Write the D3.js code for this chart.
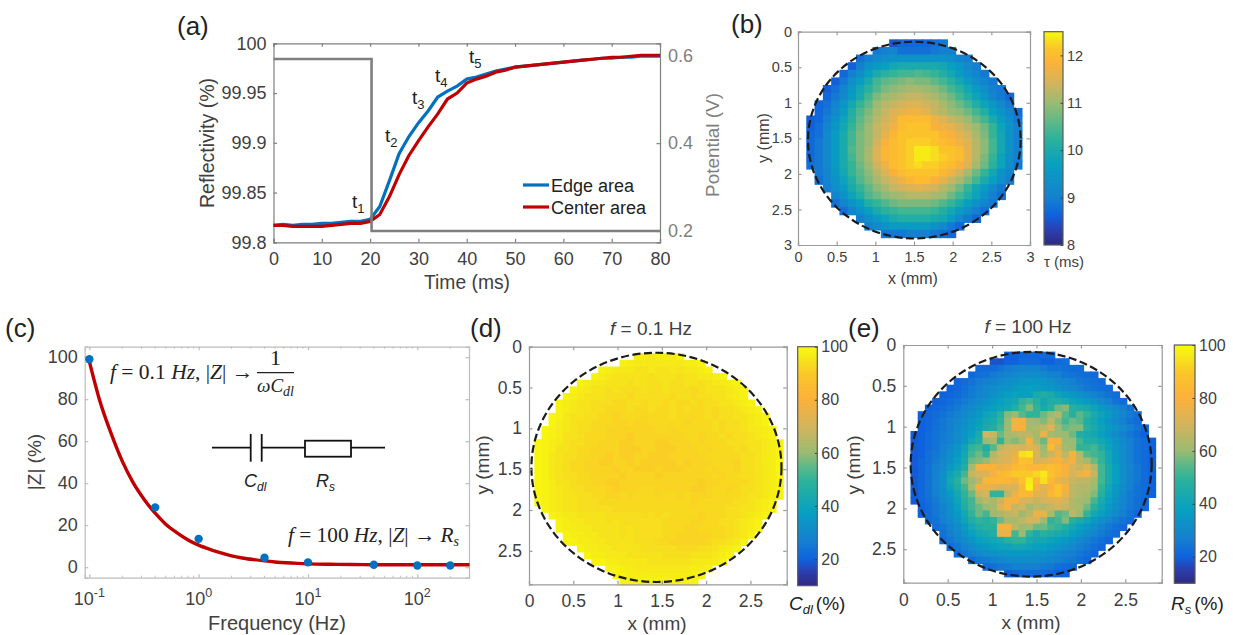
<!DOCTYPE html>
<html>
<head>
<meta charset="utf-8">
<script src="https://cdn.jsdelivr.net/npm/d3@7"></script>
<style>
  body { margin: 0; background: #fff; }
  text { font-family: "Liberation Sans", Arial, sans-serif; }
</style>
</head>
<body>
<svg width="1233" height="635"></svg>
<script>
// (a) reflectivity transients
const timeMs = [0,2,4,6,8,10,12,14,16,18,20,22,24,26,28,30,32,34,36,38,40,42,44,46,48,50,52,54,56,58,60,62,64,66,68,70,72,74,76,78,80];
const edgeArea = [99.817,99.818,99.817,99.818,99.818,99.819,99.819,99.82,99.821,99.821,99.823,99.836,99.862,99.889,99.906,99.92,99.932,99.946,99.952,99.957,99.964,99.966,99.969,99.972,99.974,99.976,99.977,99.978,99.979,99.98,99.981,99.982,99.983,99.984,99.985,99.985,99.986,99.986,99.987,99.987,99.987];
const centerArea = [99.817,99.817,99.816,99.816,99.816,99.816,99.817,99.818,99.819,99.819,99.821,99.828,99.846,99.868,99.887,99.902,99.916,99.929,99.944,99.95,99.96,99.964,99.967,99.971,99.973,99.976,99.977,99.978,99.979,99.98,99.981,99.982,99.983,99.984,99.985,99.986,99.986,99.987,99.988,99.988,99.988];
const potentialTime = [0,20.3,20.3,80];
const potentialVolts = [0.5916,0.5916,0.2,0.2];
const stepLabels = ["1","2","3","4","5"];

// (c) impedance spectrum
const freqPoints = [0.1,0.4,1,4,10,40,100,200];
const zPoints = [99,28.5,13.5,4.5,2.3,1.2,0.8,0.8];
const freqFit = [0.1,0.125,0.16,0.2,0.25,0.32,0.4,0.5,0.63,0.8,1,1.3,1.6,2,2.5,3.2,4,5,6.3,8,10,16,25,40,63,100,160,300];
const zFit = [98,79,63,50.5,40.5,32,25.7,20.5,16.5,13,10.5,8.3,6.8,5.4,4.4,3.6,3,2.5,2.1,1.8,1.6,1.4,1.3,1.2,1.2,1.2,1.2,1.2];

// colour bar stops: (b) runs a bit differently from (d) and (e)
const cmapColors = ["#2e2a80","#2c3fb0","#0f62de","#1580d0","#07a0c0","#2db39a","#60b888","#9bbb72","#d4b45c","#fbb13a","#fbc52a","#f6e61a","#f9fb0e"];
const cmapPosB = [0,0.07,0.14,0.22,0.38,0.5,0.58,0.667,0.76,0.85,0.92,0.97,1];
const cmapPosDE = [0,0.06,0.11,0.19,0.31,0.44,0.5,0.556,0.667,0.78,0.88,0.95,1];

// (b) tau map: rows start at grid row 1, tauCols gives each row's first column
const tauCols = [11,9,7,6,5,4,3,3,2,2,1,1,1,1,1,1,1,2,2,3,4,4,5,7,8,10];
const tauRows = [
[8.5,8.7,8.7,8.7,8.7,8.8,8.9],
[8.9,9,9.1,8.8,8.8,8.8,8.8,8.9,9,9],
[8.8,9,9.2,9.3,9.4,9.4,9.4,9.4,9.4,9.4,9.4,9.3,9.1,9],
[8.6,9,9.4,9.6,9.7,9.9,10,10,10,10,10,9.9,9.7,9.5,9.2,9],
[8.7,9,9.3,9.7,10,10.2,10.3,10.4,10.4,10.5,10.4,10.3,10.1,9.9,9.6,9.3,9.1,8.9],
[8.6,8.9,9.3,9.6,10,10.4,10.6,10.7,10.8,10.9,10.8,10.8,10.6,10.4,10.2,9.9,9.6,9.3,9.1,8.9],
[8.6,8.8,9.1,9.5,9.9,10.2,10.5,10.8,10.9,11,11.1,11.1,11,10.9,10.7,10.4,10.2,9.9,9.6,9.3,9,8.9],
[8.7,8.9,9.2,9.6,10,10.4,10.8,11,11.1,11.2,11.3,11.3,11.2,11.1,10.9,10.7,10.4,10.1,9.8,9.5,9.1,8.9,8.7],
[8.7,8.8,9.1,9.5,9.9,10.3,10.6,11,11.2,11.3,11.4,11.5,11.5,11.4,11.3,11.1,10.9,10.7,10.4,10.1,9.8,9.5,9.2,8.9],
[8.7,8.9,9.2,9.6,10.1,10.5,10.8,11.1,11.3,11.5,11.6,11.7,11.7,11.6,11.3,11.2,11,10.9,10.7,10.4,10.1,9.7,9.4,9.1,8.8],
[8.6,8.7,9,9.4,9.8,10.2,10.6,10.9,11.2,11.4,11.6,12,12,12,12,11.7,11.5,11.3,11.2,11,10.7,10.4,10,9.6,9.3,8.9],
[8.6,8.8,9.1,9.5,9.9,10.3,10.7,11,11.3,11.5,11.7,12,12.1,12.1,12.1,11.8,11.7,11.6,11.4,11.2,11,10.7,10.3,9.8,9.4,9],
[8.7,8.8,9.2,9.6,10,10.4,10.8,11,11.3,11.6,11.9,12.1,12.1,12.1,12.1,12.1,11.9,11.8,11.6,11.4,11.1,10.8,10.3,9.9,9.4,9],
[8.7,8.9,9.2,9.6,10,10.4,10.8,11,11.4,11.8,12,12.1,12.2,12.2,12.2,12.1,12,11.9,11.7,11.5,11.2,10.9,10.4,9.9,9.4,9],
[8.7,8.9,9.2,9.6,10,10.5,10.8,11.1,11.5,11.9,12,12.1,12.2,12.4,12.4,12.3,12.1,12.1,12,11.6,11.2,10.9,10.4,9.9,9.4,9],
[8.7,8.9,9.2,9.6,10,10.4,10.8,11.1,11.5,11.9,12,12.1,12.2,12.4,12.4,12.3,12.2,12.1,12,11.6,11.2,10.8,10.3,9.8,9.3,9],
[8.8,8.9,9.2,9.6,10,10.3,10.7,11,11.4,11.7,12,12.1,12.2,12.3,12.2,12.2,12.1,12,11.8,11.5,11.1,10.7,10.2,9.8,9.3,8.9],
[8.9,9.1,9.5,9.9,10.3,10.6,10.9,11.2,11.5,11.8,12,12.1,12.1,12.1,12.1,11.9,11.7,11.4,11.1,10.7,10.3,9.9,9.4,9.1],
[8.8,9.1,9.4,9.8,10.1,10.5,10.8,11.1,11.3,11.5,11.7,11.9,12,12,11.8,11.6,11.3,11.1,10.8,10.4,10,9.7,9.3,9],
[9,9.3,9.6,10,10.3,10.6,10.9,11.1,11.3,11.4,11.5,11.6,11.5,11.4,11.2,11,10.7,10.3,9.9,9.6,9.2,8.9],
[9.1,9.4,9.8,10.1,10.5,10.7,10.9,11,11.1,11.2,11.2,11.2,11.1,11,10.7,10.4,10.1,9.8,9.4,9,8.8],
[8.8,9.1,9.4,9.7,10.1,10.3,10.5,10.7,10.8,10.8,10.8,10.8,10.7,10.5,10.3,10,9.7,9.4,9.1,8.9],
[8.8,9.1,9.4,9.7,10,10.2,10.3,10.4,10.4,10.4,10.4,10.3,10.1,9.9,9.6,9.3,9,8.8],
[9,9.3,9.6,9.8,10,10.1,10.1,10.1,10.1,10,9.9,9.6,9.2,8.9,8.7],
[9,9.2,9.4,9.6,9.6,9.6,9.6,9.6,9.4,9.2,8.9,8.7],
[8.9,8.9,8.9,9,9,9,8.9,8.8,8.7]
];

// (d) C_dl map
const cdlCols = [15,13,10,9,7,6,5,4,4,3,3,2,2,1,1,1,1,1,1,1,1,1,1,2,3,4,4,5,5,7,8,9,11,12,13];
const cdlRows = [
[97,97,96,97,97,97,98],
[98,97,96,96,96,96,96,96,96,97,97,98],
[98,97,96,96,96,95,95,96,95,95,96,95,96,96,97,98],
[98,97,96,95,95,95,95,95,94,95,95,95,94,95,95,96,96,97,98],
[98,97,96,96,95,95,95,94,95,95,94,94,95,94,94,95,95,94,95,96,96,97,98],
[98,97,96,95,95,94,95,94,94,94,95,94,94,95,94,94,94,93,94,95,95,95,96,97,98],
[98,97,96,95,95,95,94,94,94,93,94,94,94,94,94,93,94,94,93,94,94,95,95,96,97,98],
[98,97,96,95,95,94,94,94,93,93,94,94,93,94,94,93,94,93,93,94,93,94,94,95,95,96,97,98],
[98,97,96,95,95,94,94,93,93,93,94,93,93,94,93,93,94,93,94,93,93,94,93,94,94,95,96,97,98],
[99,98,96,95,95,94,94,93,93,92,93,93,93,92,93,93,93,94,93,93,93,93,94,93,94,94,95,95,96,97,98],
[99,97,96,95,94,94,93,93,93,92,92,93,92,92,93,93,93,93,93,92,93,93,93,94,93,94,94,95,96,97,98],
[99,98,97,96,95,94,94,93,93,92,92,92,92,92,92,92,93,93,92,93,93,93,93,93,94,93,94,94,95,96,96,97,98],
[99,98,97,95,95,94,93,93,93,92,92,92,91,92,92,92,92,92,92,92,93,93,92,93,93,94,93,94,94,95,96,97,98],
[99,98,97,96,95,94,94,93,93,92,92,92,91,91,92,92,92,91,91,92,92,92,93,92,93,93,93,94,94,94,95,95,96,97,98],
[99,98,97,95,95,94,93,93,92,92,92,92,91,91,91,92,92,91,91,91,92,92,92,93,92,93,93,93,94,93,95,95,96,97,98],
[99,98,96,95,94,94,93,93,92,92,91,92,91,91,92,92,91,91,91,92,92,92,92,92,93,93,93,93,93,94,94,95,96,97,98],
[99,98,96,95,94,93,93,92,92,91,91,92,92,91,92,91,91,91,91,91,92,91,92,92,92,93,93,93,92,94,94,95,96,97,99],
[99,98,96,95,94,93,93,92,92,92,92,91,92,92,91,91,91,92,91,91,91,92,92,92,93,92,93,93,92,94,94,95,96,97,99],
[99,98,96,95,94,94,93,93,92,92,92,92,91,92,92,92,92,91,92,92,92,92,92,92,92,93,92,93,93,94,94,95,96,97,98],
[99,98,97,95,95,94,93,93,92,92,91,91,92,92,92,92,92,92,92,92,92,92,92,91,92,92,93,93,93,93,94,95,96,97,98],
[99,98,97,96,95,94,94,93,93,93,92,91,92,92,92,93,93,92,92,92,92,92,91,91,92,93,93,92,93,94,94,95,96,97,98],
[99,98,97,96,95,95,94,94,93,93,92,92,93,92,93,93,93,92,93,93,92,93,92,92,92,93,93,93,93,94,95,95,96,97,98],
[99,98,97,96,95,95,94,94,94,93,93,93,93,93,93,93,93,93,93,93,93,93,92,93,93,93,93,93,94,94,95,96,97,98],
[98,97,96,95,95,94,94,94,94,94,93,93,93,93,93,93,93,93,93,93,93,93,93,93,93,93,94,94,95,95,96,97,98],
[98,97,96,96,95,95,95,95,94,94,94,94,94,93,94,93,94,93,93,93,93,92,93,93,93,94,94,95,96,97,98],
[98,97,96,96,95,95,95,94,95,94,94,94,94,94,94,93,93,93,93,92,92,93,93,94,94,95,96,97,98],
[98,97,97,96,96,95,95,95,95,94,95,94,94,94,94,93,93,93,92,92,93,93,93,93,94,95,96,97,98],
[98,97,97,96,96,95,95,95,94,95,94,94,94,94,93,93,92,92,92,92,92,93,93,94,95,96,98],
[98,98,97,97,96,96,95,95,95,95,94,94,94,93,93,92,92,92,92,92,93,94,94,95,96,98],
[98,97,97,96,96,95,95,95,95,94,94,94,94,94,93,93,93,94,94,95,96,97,98],
[98,97,97,96,96,96,95,95,95,95,95,94,94,94,94,95,95,95,96,97,98],
[98,98,97,97,96,96,96,96,95,95,95,95,95,95,96,96,96,97,98],
[98,98,97,97,96,96,96,96,96,96,96,96,97,97,98],
[98,98,97,97,97,97,97,97,97,97,97,98,98],
[98,98,98,98,98,98,98,98,98,98,98]
];

// (e) R_s map
const rsCols = [14,12,10,9,7,6,5,4,3,2,2,2,1,1,1,1,1,1,1,1,1,1,1,2,2,3,4,5,5,6,7,9,11,14];
const rsRows = [
[20,20,21,21,21,22,22],
[18,18,20,20,22,22,22,20,20,22,23],
[22,22,22,24,26,27,28,28,28,26,24,24,23,22,22],
[21,23,24,26,27,28,30,31,31,32,30,28,27,25,24,23,22,22],
[21,22,24,26,27,28,30,32,33,35,35,35,34,33,30,29,27,25,24,23,22],
[20,21,23,25,27,29,31,33,34,36,37,38,37,36,35,33,31,29,27,25,24,23,22],
[20,21,22,24,26,28,30,33,35,37,39,38,38,44,46,44,40,37,35,33,30,28,26,24,22],
[20,21,22,24,26,28,31,33,36,38,40,42,50,52,48,42,46,46,44,40,38,36,33,30,27,24,22],
[20,21,22,24,26,28,30,33,36,38,40,42,46,52,58,50,44,48,56,58,48,46,44,40,36,33,30,27,24],
[20,21,22,24,26,28,30,33,36,40,42,48,58,60,54,50,50,56,60,64,54,48,54,50,44,40,36,32,29,26,23],
[20,21,23,25,27,29,32,35,38,42,44,50,60,78,80,62,60,58,66,58,52,56,54,46,42,38,34,30,27,24,22],
[20,21,23,25,27,30,33,36,40,44,46,52,60,78,80,62,64,66,72,60,56,58,58,48,44,40,36,33,30,27,24,21],
[19,20,22,24,26,28,31,34,38,44,70,68,56,62,64,66,66,62,76,62,60,60,56,46,44,42,38,34,31,28,25,22,20],
[19,20,22,24,26,28,31,35,42,46,60,62,50,60,58,62,78,62,56,78,80,60,60,52,46,46,42,38,34,30,27,24,22,20],
[19,20,22,24,27,30,34,40,50,52,46,54,66,70,72,70,74,70,60,84,72,62,60,50,50,52,46,40,35,31,27,24,22,20],
[19,20,23,25,28,32,36,42,52,56,50,64,70,72,76,94,96,72,62,68,76,66,80,64,54,52,50,42,36,31,27,24,22,20],
[19,21,23,26,29,33,38,44,56,58,60,68,70,72,78,88,86,70,72,76,80,74,78,66,62,56,50,42,36,31,27,24,22,20],
[19,21,24,27,30,36,40,46,62,78,80,80,76,78,84,86,82,82,84,86,84,80,72,68,74,64,52,44,38,32,28,25,22,20],
[19,21,24,28,32,40,44,52,68,70,72,78,84,86,90,90,90,92,96,88,84,78,70,76,78,68,52,44,38,32,28,25,22,20],
[19,21,24,28,33,42,48,56,60,66,82,82,84,82,78,88,96,84,94,84,76,72,68,66,66,62,52,44,38,32,28,25,22,20],
[19,21,24,28,32,40,46,52,62,76,76,74,70,72,70,84,98,78,74,80,88,80,66,64,64,60,50,42,36,31,27,24,22,20],
[19,21,24,27,31,36,42,50,56,68,70,50,50,66,76,84,84,74,72,84,88,76,66,64,62,58,48,40,35,30,26,24,22,20],
[19,21,23,26,30,34,40,48,52,60,66,62,68,78,80,72,70,68,70,72,74,70,64,62,60,52,44,38,33,29,26,23,21],
[20,22,25,28,32,38,46,52,56,60,62,72,78,68,70,62,66,64,68,70,68,64,62,56,48,42,36,32,28,25,23,21],
[20,22,25,28,32,36,42,50,56,52,60,62,66,68,60,66,76,74,62,54,56,66,60,50,42,38,34,30,27,24,21],
[22,24,27,30,34,40,46,50,48,50,56,62,62,66,70,70,60,50,52,58,48,44,40,36,32,29,26,24,22],
[23,25,28,31,36,42,46,48,48,78,78,66,60,62,56,56,52,50,46,42,38,35,31,28,25,23,21],
[24,27,30,34,38,42,44,46,76,76,52,60,50,44,48,46,44,42,38,35,32,29,26,24,22],
[22,25,28,31,34,38,40,42,44,48,50,50,44,42,42,40,38,36,33,30,27,25,23,21],
[22,25,28,31,34,36,38,40,40,42,42,40,38,38,36,34,32,30,27,25,23,21],
[22,25,27,30,32,33,34,35,35,35,35,34,34,32,30,28,27,25,23,21],
[22,25,26,28,29,30,31,31,31,31,30,29,28,26,25,23,21],
[22,23,25,26,27,27,27,27,26,25,23,22,21],
[20,21,22,22,22,22,21,20,20]
];

const svg = d3.select("svg");
const textCol = "#404040";

function panelLabel(s, x, y) {
  svg.append("text").attr("x", x).attr("y", y).attr("font-size", 26).attr("fill", "#222").text(s);
}

// box with inward ticks on all sides
function boxAxes(g, x, y, o) {
  const bottomY = Math.max(...y.range());
  const color = o.color || "#8c8c8c";
  const bottom = g.append("g").attr("transform", `translate(0,${bottomY})`)
    .call(d3.axisBottom(x).tickValues(o.xTicks).tickSize(-3.5).tickPadding(o.padX).tickFormat(o.xFormat || (d => d)));
  const left = g.append("g").attr("transform", `translate(${x.range()[0]},0)`)
    .call(d3.axisLeft(y).tickValues(o.yTicks).tickSize(-3.5).tickPadding(o.padY).tickFormat(d => d));
  const top = g.append("g").attr("transform", `translate(0,${Math.min(...y.range())})`)
    .call(d3.axisTop(x).tickValues(o.xTicks).tickSize(-3.5).tickFormat(""));
  [bottom, left, top].forEach(a => {
    a.selectAll("path,line").attr("stroke", color).attr("stroke-width", 1.2);
    a.selectAll("text").attr("fill", textCol).attr("font-size", o.font).attr("font-family", "Liberation Sans");
  });
}

function rightEdge(g, x, y, ticks, color) {
  const a = g.append("g").attr("transform", `translate(${x.range()[1]},0)`)
    .call(d3.axisRight(y).tickValues(ticks).tickSize(-3.5).tickFormat(""));
  a.selectAll("path,line").attr("stroke", color).attr("stroke-width", 1.2);
}

// ---------- (a) ----------
panelLabel("(a)", 177, 35);
{
  const x = d3.scaleLinear().domain([0, 80]).range([273.5, 660]);
  const y = d3.scaleLinear().domain([99.8, 100]).range([242.3, 43.3]);
  const yR = d3.scaleLinear().domain([0.1743, 0.6273]).range([242.3, 43.3]);
  const g = svg.append("g");
  const lineOf = vals => d3.line().x((d, i) => x(timeMs[i])).y(d => y(d))(vals);

  boxAxes(g, x, y, {
    xTicks: d3.range(0, 81, 10), yTicks: [99.8, 99.85, 99.9, 99.95, 100],
    font: 18, color: "#7f7f7f", padX: 9.5, padY: 7
  });
  const r = g.append("g").attr("transform", "translate(660,0)")
    .call(d3.axisRight(yR).tickValues([0.2, 0.4, 0.6]).tickSize(-3.5).tickPadding(8).tickFormat(d => d));
  r.selectAll("path,line").attr("stroke", "#7f7f7f").attr("stroke-width", 1.2);
  r.selectAll("text").attr("fill", "#7f7f7f").attr("font-size", 18).attr("font-family", "Liberation Sans");

  g.append("path").attr("fill", "none").attr("stroke", "#0070c0").attr("stroke-width", 3.2).attr("d", lineOf(edgeArea));
  g.append("path").attr("fill", "none").attr("stroke", "#c00000").attr("stroke-width", 3.2).attr("d", lineOf(centerArea));
  g.append("path").attr("fill", "none").attr("stroke", "#7f7f7f").attr("stroke-width", 2.6)
    .attr("d", d3.line().x((d, i) => x(potentialTime[i])).y(d => yR(d))(potentialVolts));

  const lab = (s, xx, yy, size, col, rot) => g.append("text")
    .attr("transform", `translate(${xx},${yy})` + (rot ? ` rotate(${rot})` : ""))
    .attr("text-anchor", "middle").attr("font-size", size).attr("fill", col).text(s);
  lab("Time (ms)", 467, 289, 19.3, textCol);
  lab("Reflectivity (%)", 214, 143, 19.5, textCol, -90);
  lab("Potential (V)", 719, 145, 18.9, "#7f7f7f", -90);

  // step markers t1..t5
  const stepX = [352, 385, 412, 435, 469];
  const stepY = [208, 141.7, 104, 81.7, 63];
  stepLabels.forEach((s, i) => {
    const t = g.append("text").attr("x", stepX[i]).attr("y", stepY[i]).attr("font-size", 19).attr("fill", "#222").text("t");
    t.append("tspan").attr("dy", 5).attr("font-size", 13).text(s);
  });

  // legend
  [["Edge area", "#0070c0", 192], ["Center area", "#c00000", 214]].forEach(d => {
    g.append("line").attr("x1", 523).attr("x2", 549).attr("y1", d[2] - 7).attr("y2", d[2] - 7)
      .attr("stroke", d[1]).attr("stroke-width", 3.2);
    g.append("text").attr("x", 551).attr("y", d[2]).attr("font-size", 18).attr("fill", "#222").text(d[0]);
  });
}

// ---------- heat maps ----------
function drawMap(o) {
  const g = svg.append("g");
  const x = d3.scaleLinear().domain([0, o.max]).range(o.xr);
  const y = d3.scaleLinear().domain([0, o.max]).range(o.yr);
  const col = d3.scaleLinear().domain(o.domain).range([0, 1]);
  const tMap = d3.scaleLinear().domain(o.pos).range(cmapColors);

  o.rows.forEach((row, r) => {
    row.forEach((v, i) => {
      const c = o.cols[r] + i;
      const r0 = r + 1;
      g.append("rect")
        .attr("x", x(o.x0 + c * o.cx)).attr("y", y(r0 * o.cy))
        .attr("width", x(o.x0 + (c + 1) * o.cx) - x(o.x0 + c * o.cx) + 0.8)
        .attr("height", y((r0 + 1) * o.cy) - y(r0 * o.cy) + 0.8)
        .attr("fill", tMap(col(v)));
    });
  });

  g.append("ellipse")
    .attr("cx", x(o.circle[0])).attr("cy", y(o.circle[1]))
    .attr("rx", x(o.circle[2]) - x(0)).attr("ry", y(o.circle[3]) - y(0))
    .attr("fill", "none").attr("stroke", "#1c1c1c").attr("stroke-width", 2.2).attr("stroke-dasharray", "8,3.5");

  boxAxes(g, x, y, { xTicks: o.ticks, yTicks: o.ticks, font: o.font, padX: o.padX, padY: o.padY, color: "#9a9a9a" });
  rightEdge(g, x, y, o.ticks, "#9a9a9a");

  // colour bar
  const id = "grad" + o.name;
  const grad = svg.append("defs").append("linearGradient").attr("id", id)
    .attr("x1", 0).attr("x2", 0).attr("y1", 1).attr("y2", 0);
  o.pos.forEach((p, i) => grad.append("stop").attr("offset", p).attr("stop-color", cmapColors[i]));
  const cb = d3.scaleLinear().domain(o.domain).range(o.cbY);
  g.append("rect").attr("x", o.cbX[0]).attr("y", o.cbY[1]).attr("width", o.cbX[1] - o.cbX[0])
    .attr("height", o.cbY[0] - o.cbY[1]).attr("fill", `url(#${id})`).attr("stroke", "#5a5a5a").attr("stroke-width", 1.2);
  const ca = g.append("g").attr("transform", `translate(${o.cbX[1]},0)`)
    .call(d3.axisRight(cb).tickValues(o.cbTicks).tickSize(-2.5).tickPadding(4).tickFormat(d => d));
  ca.select("path").remove();
  ca.selectAll("line").attr("stroke", "#444");
  ca.selectAll("text").attr("fill", textCol).attr("font-size", o.cbFont).attr("font-family", "Liberation Sans");

  g.append("text").attr("x", o.xLabel[0]).attr("y", o.xLabel[1]).attr("text-anchor", "middle")
    .attr("font-size", o.labelFont).attr("fill", textCol).text("x (mm)");
  g.append("text").attr("transform", `translate(${o.yLabel[0]},${o.yLabel[1]}) rotate(-90)`).attr("text-anchor", "middle")
    .attr("font-size", o.labelFont).attr("fill", textCol).text("y (mm)");
  return g;
}

panelLabel("(b)", 731, 33);
const gB = drawMap({
  name: "b", rows: tauRows, cols: tauCols, pos: cmapPosB, max: 3, x0: 0, cx: 3 / 28, cy: 3 / 28,
  xr: [798, 1030], yr: [31.7, 245], domain: [8, 12.5], circle: [1.504, 1.524, 1.375, 1.383],
  ticks: [0, 0.5, 1, 1.5, 2, 2.5, 3], font: 14.5, padX: 7, padY: 6, labelFont: 16,
  cbX: [1044, 1063], cbY: [245, 31.7], cbTicks: [8, 9, 10, 11, 12], cbFont: 14.5,
  xLabel: [913, 284], yLabel: [769, 138]
});
gB.append("text").attr("x", 1064).attr("y", 267).attr("text-anchor", "middle").attr("font-size", 15).attr("fill", textCol).text("τ (ms)");

panelLabel("(c)", 5, 337);
{
  const x = d3.scaleLog().domain([0.0907, 297]).range([84.7, 469]);
  const y = d3.scaleLinear().domain([-5, 105]).range([577.7, 346.7]);
  const g = svg.append("g");
  boxAxes(g, x, y, {
    xTicks: [0.1, 1, 10, 100], yTicks: [0, 20, 40, 60, 80, 100],
    font: 18, padX: 10, padY: 7, color: "#bdbdbd", xFormat: d => ""
  });
  rightEdge(g, x, y, [0, 20, 40, 60, 80, 100], "#bdbdbd");

  // minor log ticks
  const minor = [];
  [0.1, 1, 10, 100].forEach(d => d3.range(2, 10).forEach(k => { if (d * k < 297) minor.push(d * k); }));
  [577.7, 346.7].forEach((yy, i) => {
    g.selectAll(null).data(minor).enter().append("line")
      .attr("x1", d => x(d)).attr("x2", d => x(d)).attr("y1", yy).attr("y2", yy + (i ? 2 : -2))
      .attr("stroke", "#bdbdbd");
  });

  ["-1", "0", "1", "2"].forEach((e, i) => {
    const t = g.append("text").attr("x", x([0.1, 1, 10, 100][i])).attr("y", 605).attr("text-anchor", "middle")
      .attr("font-size", 18).attr("fill", textCol).text("10");
    t.append("tspan").attr("dy", -8).attr("font-size", 12.5).text(e);
  });

  g.append("path").attr("fill", "none").attr("stroke", "#c00000").attr("stroke-width", 3.4)
    .attr("d", d3.line().x((d, i) => x(freqFit[i])).y(d => y(d)).curve(d3.curveMonotoneX)(zFit));
  g.selectAll(null).data(freqPoints).enter().append("circle")
    .attr("cx", d => x(d)).attr("cy", (d, i) => y(zPoints[i])).attr("r", 4.2).attr("fill", "#0070c0");

  g.append("text").attr("x", 277).attr("y", 630).attr("text-anchor", "middle").attr("font-size", 20).attr("fill", textCol).text("Frequency (Hz)");
  g.append("text").attr("transform", "translate(41,462) rotate(-90)").attr("text-anchor", "middle").attr("font-size", 19).attr("fill", textCol).text("|Z| (%)");

  // equations
  const serif = "'Liberation Serif', serif";
  const eq = (xx, yy, parts, size) => {
    const t = g.append("text").attr("x", xx).attr("y", yy).attr("font-size", size).attr("fill", "#222").style("font-family", serif);
    parts.forEach(p => {
      const s = t.append("tspan").attr("font-style", p[1] ? "italic" : "normal").text(p[0]);
      if (p[2]) s.attr("dy", p[2]).attr("font-size", p[3] || 14);
    });
    return t;
  };
  eq(110, 379, [["f", 1], [" = 0.1 ", 0], ["Hz", 1], [", |", 0], ["Z", 1], ["| → ", 0]], 21.5);
  g.append("line").attr("x1", 257).attr("x2", 294).attr("y1", 372.7).attr("y2", 372.7).attr("stroke", "#222").attr("stroke-width", 1.2);
  eq(270, 365, [["1", 0]], 22);
  eq(257, 392, [["ωC", 1], ["dl", 1, 4]], 19);
  eq(288, 542, [["f", 1], [" = 100 ", 0], ["Hz", 1], [", |", 0], ["Z", 1], ["| → ", 0], ["R", 1], ["s", 1, 4]], 21.3);

  // series circuit
  const wire = (a, b, c, d) => g.append("line").attr("x1", a).attr("y1", b).attr("x2", c).attr("y2", d).attr("stroke", "#111").attr("stroke-width", 1.8);
  wire(212, 447.7, 250.7, 447.7);
  wire(250.7, 434, 250.7, 461.7);
  wire(261.7, 434, 261.7, 461.7);
  wire(261.7, 447.7, 305, 447.7);
  g.append("rect").attr("x", 305).attr("y", 440.7).attr("width", 46).attr("height", 16).attr("fill", "#fff").attr("stroke", "#111").attr("stroke-width", 1.8);
  wire(351, 447.7, 385, 447.7);
  const cs = g.append("text").attr("x", 244).attr("y", 487).attr("font-size", 18).attr("font-style", "italic").attr("fill", "#222").text("C");
  cs.append("tspan").attr("dy", 4).attr("font-size", 12).text("dl");
  const rs = g.append("text").attr("x", 316).attr("y", 487).attr("font-size", 18).attr("font-style", "italic").attr("fill", "#222").text("R");
  rs.append("tspan").attr("dy", 4).attr("font-size", 12).text("s");
}

panelLabel("(d)", 470, 337);
const gD = drawMap({
  name: "d", rows: cdlRows, cols: cdlCols, pos: cmapPosDE, max: 2.91, x0: -0.02, cx: 0.0802, cy: 0.081,
  xr: [529, 786.7], yr: [346.7, 584.3], domain: [10, 100], circle: [1.439, 1.478, 1.412, 1.404],
  ticks: [0, 0.5, 1, 1.5, 2, 2.5], font: 17.5, padX: 10, padY: 7, labelFont: 19,
  cbX: [797.7, 817.3], cbY: [585.7, 346.7], cbTicks: [20, 40, 60, 80, 100], cbFont: 16,
  xLabel: [657, 630], yLabel: [489, 465]
});
{
  const t = gD.append("text").attr("x", 651).attr("y", 335).attr("text-anchor", "middle").attr("font-size", 19).attr("fill", textCol);
  t.append("tspan").attr("font-style", "italic").text("f");
  t.append("tspan").text(" = 0.1 Hz");
  const c = gD.append("text").attr("x", 789).attr("y", 610).attr("font-size", 19).attr("fill", "#222");
  c.append("tspan").attr("font-style", "italic").text("C");
  c.append("tspan").attr("dy", 4).attr("font-size", 13).attr("font-style", "italic").text("dl");
  c.append("tspan").attr("dy", -4).attr("dx", 3).text("(%)");
}

panelLabel("(e)", 848, 337);
const gE = drawMap({
  name: "e", rows: rsRows, cols: rsCols, pos: cmapPosDE, max: 2.91, x0: 0, cx: 0.0811, cy: 0.081,
  xr: [903.3, 1161.7], yr: [345, 582.7], domain: [10, 100], circle: [1.44, 1.46, 1.357, 1.375],
  ticks: [0, 0.5, 1, 1.5, 2, 2.5], font: 17.5, padX: 11, padY: 7, labelFont: 19,
  cbX: [1174.3, 1195], cbY: [583.3, 345], cbTicks: [20, 40, 60, 80, 100], cbFont: 16,
  xLabel: [1031, 629], yLabel: [860, 465]
});
{
  const t = gE.append("text").attr("x", 1028).attr("y", 333).attr("text-anchor", "middle").attr("font-size", 19).attr("fill", textCol);
  t.append("tspan").attr("font-style", "italic").text("f");
  t.append("tspan").text(" = 100 Hz");
  const c = gE.append("text").attr("x", 1171).attr("y", 610).attr("font-size", 19).attr("fill", "#222");
  c.append("tspan").attr("font-style", "italic").text("R");
  c.append("tspan").attr("dy", 4).attr("font-size", 13).attr("font-style", "italic").text("s");
  c.append("tspan").attr("dy", -4).attr("dx", 3).text("(%)");
}
</script>
</body>
</html>
